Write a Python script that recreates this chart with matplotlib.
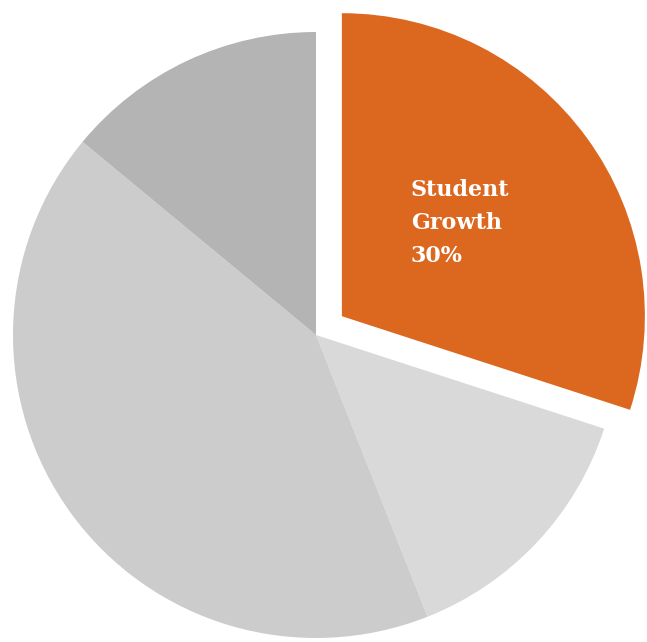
import matplotlib
matplotlib.use("Agg")
import matplotlib.pyplot as plt

labels = ["Student Growth", "Other A", "Other B", "Other C"]
values = [30, 14, 42, 14]
colors = ["#DC671F", "#D9D9D9", "#CCCCCC", "#B4B4B4"]
explode = [32, 0, 0, 0]

fig = plt.figure(figsize=(6.47, 6.42), dpi=100)
ax = fig.add_axes([0, 0, 1, 1])
ax.pie(values, colors=colors, explode=explode, startangle=90, counterclock=False,
       radius=303, center=(316, 307), wedgeprops=dict(linewidth=0))
ax.set_xlim(0, 647)
ax.set_ylim(0, 642)
ax.set_aspect("equal")
ax.axis("off")

ax.text(411, 463, "Student\nGrowth\n30%", color="white", fontsize=16,
        fontweight="bold", family=["DejaVu Serif"], ha="left", va="top",
        linespacing=1.65)

fig.savefig("out.png", dpi=100)
